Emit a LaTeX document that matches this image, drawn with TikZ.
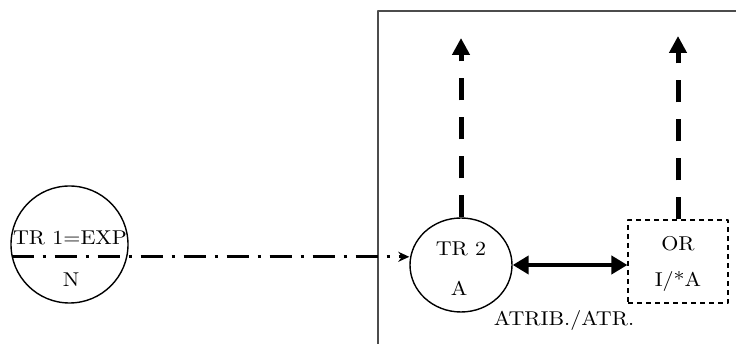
\documentclass[tikz,border=0pt]{standalone}
\usepackage{fontspec}
\setmainfont{lmroman10-regular.otf}[FakeStretch=1.1]
\usepackage{tikz}
\usetikzlibrary{arrows.meta,positioning,shapes.geometric}

\begin{document}
\begin{tikzpicture}[
    x=1pt, y=1pt, line join=round,
    font=\fontsize{20}{24}\selectfont,
    txt/.style={inner sep=0pt, anchor=base},
    frame/.style={draw=black!70, line width=1.5pt},
    trcirc/.style={draw, line width=1.4pt, circle, minimum size=117pt, inner sep=0pt},
    trell/.style={draw, line width=1.4pt, ellipse, minimum width=102pt, minimum height=94pt, inner sep=0pt},
    orbox/.style={draw, line width=1.2pt, dash pattern=on 5pt off 4pt, minimum width=100pt, minimum height=83pt, inner sep=0pt},
    dashdot/.style={line width=3pt, dash pattern=on 22pt off 9pt on 3pt off 9pt, -{Stealth[length=11pt,width=10pt]}},
    upar/.style={line width=5pt, dash pattern=on 22pt off 17pt, -{Triangle[length=17pt,width=17pt]}},
    dbl/.style={line width=4.5pt, {Triangle[length=16pt,width=18pt]}-{Triangle[length=16pt,width=18pt]}}
  ]
  \useasboundingbox (0,0) rectangle (736,344);

  % ---- frame (left and top side only) ----
  \draw[frame] (378,0) -- (378,333) -- (736,333);

  % ---- TR 1 ----
  \node[trcirc] (tr1) at (69.5,99.5) {};
  \node[txt] (tr1top) at (70,99.2) {TR 1=EXP};
  \node[txt] (tr1bot) at (71,57.2) {N};

  % ---- TR 2 ----
  \node[trell] (tr2) at (461,79) {};
  \node[txt] (tr2top) at (461,88.9) {TR 2};
  \node[txt] (tr2bot) at (459,48.9) {A};

  % ---- OR ----
  \node[orbox] (or) at (678,82.5) {};
  \node[txt] (ortop) at (678,93.9) {OR};
  \node[txt] (orbot) at (678,57.2) {I/*A};

  % ---- connectors ----
  \draw[dashdot] (tr1.192) -- (tr1.192 -| tr2.west);
  \draw[dbl] (tr2.east) -- (tr2.east -| or.west);
  \node[txt] (atr) at (564,18.9) {ATRIB./ATR.};

  \coordinate (tipA) at (461,306);
  \coordinate (tipB) at (678,308);
  \draw[upar] (tr2.north) -- (tipA);
  \draw[upar] (or.north) -- (tipB);

\end{tikzpicture}
\end{document}
